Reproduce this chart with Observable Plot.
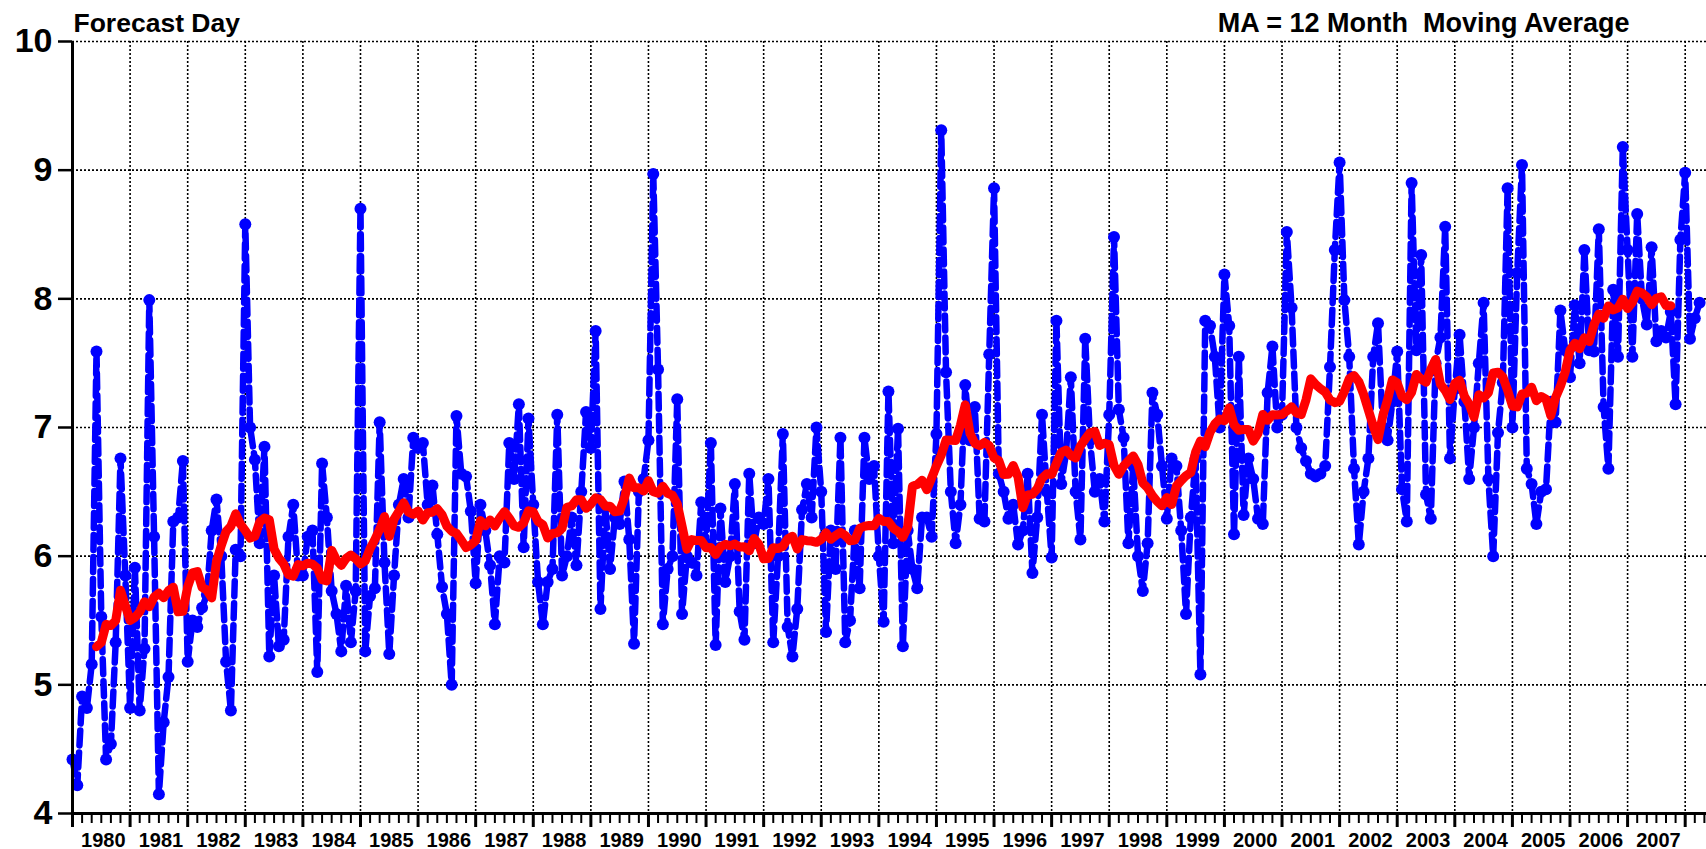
<!DOCTYPE html>
<html>
<head>
<meta charset="utf-8">
<script src="https://cdn.jsdelivr.net/npm/d3@7"></script>
<script src="https://cdn.jsdelivr.net/npm/@observablehq/plot@0.6"></script>
<style>
  html, body { margin: 0; padding: 0; background: #ffffff; }
  #chart svg { display: block; }
  #chart svg text { white-space: pre; }
</style>
</head>
<body>
<div id="chart"></div>
<script>
// ---- data (monthly, Jan 1980 .. Apr 2008) ----
const startYear = 1980;
const values = [
  // 1980
  4.42, 4.22, 4.91, 4.82, 5.16, 7.59, 5.53, 4.42, 4.54, 5.33, 6.76, 5.85,
  // 1981
  4.82, 5.91, 4.80, 5.28, 7.99, 6.15, 4.15, 4.71, 5.06, 6.27, 6.30, 6.74,
  // 1982
  5.18, 5.50, 5.45, 5.60, 5.70, 6.20, 6.44, 6.00, 5.18, 4.80, 6.05, 6.00,
  // 1983
  8.58, 7.00, 6.75, 6.10, 6.85, 5.22, 5.85, 5.30, 5.35, 6.15, 6.40, 5.85,
  // 1984
  5.85, 6.15, 6.20, 5.10, 6.72, 6.30, 5.73, 5.55, 5.26, 5.77, 5.33, 5.73,
  // 1985
  8.70, 5.26, 5.69, 5.75, 7.04, 5.95, 5.24, 5.85, 6.40, 6.60, 6.30, 6.92,
  // 1986
  6.84, 6.88, 6.40, 6.55, 6.17, 5.76, 5.55, 5.00, 7.09, 6.64, 6.62, 6.35,
  // 1987
  5.79, 6.40, 6.20, 5.93, 5.47, 6.00, 5.95, 6.88, 6.60, 7.18, 6.07, 7.07,
  // 1988
  6.40, 5.80, 5.47, 5.80, 5.90, 7.10, 5.85, 6.00, 6.30, 5.93, 6.50, 7.12,
  // 1989
  6.84, 7.75, 5.59, 6.38, 5.90, 6.30, 6.25, 6.58, 6.13, 5.32, 6.50, 6.60,
  // 1990
  6.90, 8.97, 7.45, 5.47, 5.90, 6.00, 7.22, 5.55, 6.00, 5.95, 5.85, 6.42,
  // 1991
  6.10, 6.88, 5.31, 6.37, 5.80, 6.00, 6.56, 5.57, 5.35, 6.64, 6.10, 6.30,
  // 1992
  6.25, 6.60, 5.33, 6.00, 6.95, 5.45, 5.22, 5.59, 6.36, 6.56, 6.30, 7.00,
  // 1993
  6.50, 5.41, 6.20, 5.90, 6.92, 5.33, 5.50, 6.20, 5.75, 6.92, 6.60, 6.70,
  // 1994
  6.00, 5.49, 7.28, 6.10, 6.99, 5.30, 6.20, 5.90, 5.75, 6.30, 6.30, 6.15,
  // 1995
  6.95, 9.31, 7.43, 6.50, 6.10, 6.40, 7.33, 6.90, 7.16, 6.29, 6.27, 7.57,
  // 1996
  8.86, 6.64, 6.50, 6.29, 6.40, 6.09, 6.20, 6.64, 5.87, 6.30, 7.10, 6.50,
  // 1997
  5.99, 7.83, 6.56, 6.80, 7.39, 6.50, 6.13, 7.69, 6.90, 6.50, 6.60, 6.27,
  // 1998
  7.10, 8.48, 7.14, 6.92, 6.10, 6.70, 6.00, 5.73, 6.10, 7.27, 7.10, 6.70,
  // 1999
  6.29, 6.76, 6.70, 6.20, 5.55, 6.30, 6.76, 5.08, 7.83, 7.79, 7.55, 7.00,
  // 2000
  8.19, 7.79, 6.17, 7.55, 6.32, 6.76, 6.60, 6.29, 6.25, 7.27, 7.63, 7.00,
  // 2001
  7.10, 8.52, 7.93, 7.00, 6.84, 6.74, 6.64, 6.62, 6.64, 6.70, 7.47, 8.38,
  // 2002
  9.06, 7.99, 7.55, 6.68, 6.09, 6.50, 6.76, 7.55, 7.81, 7.00, 6.90, 7.20,
  // 2003
  7.59, 6.52, 6.27, 8.90, 7.60, 8.34, 6.48, 6.29, 7.50, 7.70, 8.56, 6.76,
  // 2004
  7.30, 7.72, 7.20, 6.60, 7.00, 7.50, 7.97, 6.60, 6.00, 6.96, 7.35, 8.86,
  // 2005
  7.00, 8.20, 9.04, 6.68, 6.56, 6.25, 6.50, 6.52, 7.20, 7.04, 7.91, 7.60,
  // 2006
  7.39, 7.95, 7.50, 8.38, 7.60, 7.59, 8.54, 7.16, 6.68, 8.07, 7.55, 9.18,
  // 2007
  8.38, 7.55, 8.66, 8.00, 7.80, 8.40, 7.67, 7.75, 7.70, 7.90, 7.18, 8.46,
  // 2008
  8.98, 7.69, 7.85, 7.97
];
const maWindow = 12;
const yTicks = [4, 5, 6, 7, 8, 9, 10];
const gridY = [5, 6, 7, 8, 9, 10];
const yearLabels = d3.range(1980, 2008);          // 1980 .. 2007
const yearBoundaries = d3.range(1981, 2009);      // dotted gridlines
const majorTicks = d3.range(1980, 2009);
const minorTicks = d3.range(0, 28 * 6 + 3).map(k => 1980 + k / 6).filter(t => Math.abs(t - Math.round(t)) > 1e-6);
const titleText = "Forecast Day";
const legendText = "MA = 12 Month  Moving Average";

const data = values.map((v, i) => ({t: startYear + i / 12, v}));

const font = "'Liberation Sans', Arial, sans-serif";

const plot = Plot.plot({
  width: 1706,
  height: 849,
  marginLeft: 72,
  marginRight: 0,
  marginTop: 41,
  marginBottom: 36,
  x: {domain: [1980, 2008.37], axis: null},
  y: {domain: [4, 10], axis: null},
  style: {fontFamily: font, background: "#ffffff", color: "#000000", overflow: "visible"},
  marks: [
    Plot.ruleY(gridY, {stroke: "#000", strokeWidth: 1.6, strokeDasharray: "2,2"}),
    Plot.ruleX(yearBoundaries, {stroke: "#000", strokeWidth: 1.6, strokeDasharray: "2,2"}),
    Plot.line(data, {x: "t", y: "v", stroke: "#0000ff", strokeWidth: 6.5, strokeDasharray: "15,7"}),
    Plot.dot(data, {x: "t", y: "v", r: 6, fill: "#0000ff", stroke: null}),
    Plot.line(data, Plot.windowY({k: maWindow, anchor: "middle", strict: true},
      {x: "t", y: "v", stroke: "#ff0000", strokeWidth: 9, strokeLinejoin: "round"})),
    Plot.ruleX([1980], {stroke: "#000", strokeWidth: 3}),
    Plot.ruleY([4], {stroke: "#000", strokeWidth: 3}),
    // ticks
    Plot.axisY({ticks: yTicks, tickSize: 14, strokeWidth: 2.5, tickFormat: () => "", label: null}),
    Plot.axisX({ticks: majorTicks, tickSize: 14, strokeWidth: 3, tickFormat: () => "", label: null}),
    Plot.axisX({ticks: minorTicks, tickSize: 10, strokeWidth: 2, tickFormat: () => "", label: null}),
    // tick labels
    Plot.text(yTicks, {y: d => d, text: d => String(d), frameAnchor: "left", textAnchor: "end", lineAnchor: "middle", dx: -20, fontSize: 34, fontWeight: "bold", fill: "#000"}),
    Plot.text(yearLabels, {x: d => d + 0.5, text: d => String(d), frameAnchor: "bottom", textAnchor: "middle", lineAnchor: "bottom", dx: 2, dy: 33, fontSize: 20, fontWeight: "bold", fill: "#000"}),
    // header texts
    Plot.text([titleText], {frameAnchor: "top-left", text: d => d, textAnchor: "start", lineAnchor: "bottom", dx: 1, dy: -10, fontSize: 26.5, fontWeight: "bold", fill: "#000"}),
    Plot.text([legendText], {frameAnchor: "top-right", text: d => d, textAnchor: "end", lineAnchor: "bottom", dx: -77, dy: -10, fontSize: 27, fontWeight: "bold", fill: "#000"})
  ]
});
document.getElementById("chart").appendChild(plot);
</script>
</body>
</html>
